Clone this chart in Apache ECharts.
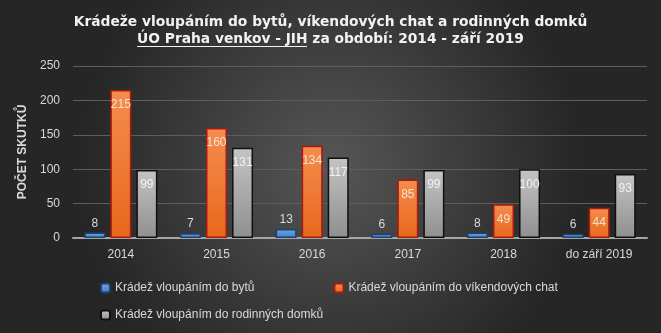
<!DOCTYPE html>
<html><head><meta charset="utf-8">
<script src="https://cdn.jsdelivr.net/npm/echarts@6/dist/echarts.min.js"></script>
<style>html,body{margin:0;padding:0;background:#333;}#c{width:661px;height:333px;}</style>
</head><body><div id="c"></div>
<script>
const categories = ['2014','2015','2016','2017','2018','do září 2019'];
const seriesNames = ['Krádež vloupáním do bytů','Krádež vloupáním do víkendových chat','Krádež vloupáním do rodinných domků'];
const byty = [8,7,13,6,8,6];
const chaty = [215,160,134,85,49,44];
const domky = [99,131,117,99,100,93];
const yTicks = [0,50,100,150,200,250];

const F = 'Liberation Sans';
const chart = echarts.init(document.getElementById('c'));
function grad(a,b){return new echarts.graphic.LinearGradient(0,0,0,1,[{offset:0,color:a},{offset:1,color:b}]);}
chart.setOption({
  backgroundColor: new echarts.graphic.RadialGradient(0.5,0.5,0.75,[{offset:0,color:'#565656'},{offset:1,color:'#262626'}]),
  animation:false,
  title:[{
    text:'Krádeže vloupáním do bytů, víkendových chat a rodinných domků',
    left:'center', top:10,
    textStyle:{color:'#f2f2f2',fontFamily:'DejaVu Sans',fontWeight:'bold',fontSize:13.8}
  },{
    text:'ÚO Praha venkov - JIH za období: 2014 - září 2019',
    left:'center', top:27,
    textStyle:{color:'#f2f2f2',fontFamily:'DejaVu Sans',fontWeight:'bold',fontSize:13.8}
  }],
  graphic:[{type:'line',shape:{x1:137,y1:46.5,x2:307,y2:46.5},style:{stroke:'#f2f2f2',lineWidth:1}}],
  grid:{left:73,right:14,top:66,bottom:95},
  legend:[{
    data:seriesNames.slice(0,2), left:95, top:277, itemWidth:9, itemHeight:9, itemGap:79,
    textStyle:{color:'#d9d9d9',fontFamily:F,fontSize:12}
  },{
    data:seriesNames.slice(2), left:95, top:304, itemWidth:9, itemHeight:9,
    textStyle:{color:'#d9d9d9',fontFamily:F,fontSize:12}
  }],
  xAxis:{type:'category',data:categories,
    axisLine:{lineStyle:{color:'#a6a6a6',width:2}},axisTick:{show:false},
    axisLabel:{color:'#d9d9d9',fontFamily:F,fontSize:12,margin:11}},
  yAxis:{type:'value',min:0,max:250,interval:50,
    name:'POČET SKUTKŮ',nameLocation:'middle',nameGap:40,
    nameTextStyle:{color:'#d9d9d9',fontFamily:F,fontWeight:'bold',fontSize:12},
    axisLabel:{color:'#d9d9d9',fontFamily:F,fontSize:12,margin:13,
      formatter:v=>yTicks.includes(v)?String(v):''},
    splitLine:{lineStyle:{color:'#5e5e5e'}},axisLine:{show:false},axisTick:{show:false}},
  series:[{
    name:seriesNames[0],type:'bar',data:byty,barWidth:21,barGap:'24%',
    itemStyle:{color:grad('#6fa8e0','#3f80c8'),borderColor:'#1f3f6e',borderWidth:1.5},
    label:{show:true,position:'top',color:'#d9d9d9',fontFamily:F,fontSize:12,distance:3}
  },{
    name:seriesNames[1],type:'bar',data:chaty,barWidth:21,barGap:'24%',
    itemStyle:{color:grad('#f48c4e','#e8681c'),borderColor:'#a81c10',borderWidth:1.5},
    label:{show:true,position:'insideTop',color:'#fbe0cf',fontFamily:F,fontSize:12,distance:9}
  },{
    name:seriesNames[2],type:'bar',data:domky,barWidth:21,barGap:'24%',
    itemStyle:{color:grad('#c4c4c4','#8f8f8f'),borderColor:'#101010',borderWidth:1.5},
    label:{show:true,position:'insideTop',color:'#f2f2f2',fontFamily:F,fontSize:12,distance:9}
  }]
});
</script></body></html>
